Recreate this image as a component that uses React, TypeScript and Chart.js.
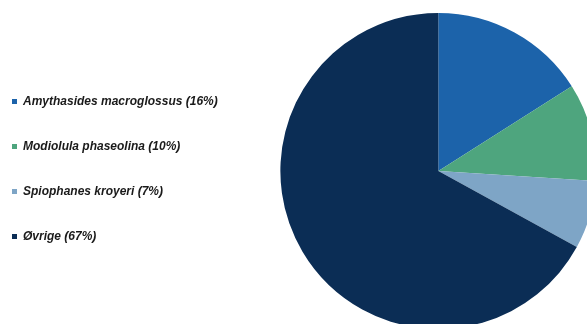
import React, { useEffect, useRef } from "react";
import { Chart, registerables } from "chart.js";

Chart.register(...registerables);

const categories = [
  "Amythasides macroglossus (16%)",
  "Modiolula phaseolina (10%)",
  "Spiophanes kroyeri (7%)",
  "Øvrige (67%)",
];
const values = [16, 10, 7, 67];
const colors = ["#1c63aa", "#4ea57e", "#7ea5c6", "#0b2d55"];

const legendNudge = {
  id: "legendNudge",
  afterLayout(chart: any) {
    if (chart.legend) {
      chart.legend.top -= 2;
      chart.legend.bottom -= 2;
    }
  },
};

export default function App() {
  const ref = useRef<HTMLCanvasElement | null>(null);
  useEffect(() => {
    if (!ref.current) return;
    const chart = new Chart(ref.current, {
      type: "pie",
      data: {
        labels: categories,
        datasets: [
          {
            data: values,
            backgroundColor: colors,
            borderWidth: 0,
          },
        ],
      },
      plugins: [legendNudge],
      options: {
        responsive: false,
        animation: false,
        layout: { padding: { top: 13, bottom: 13, left: 0, right: 0 } },
        plugins: {
          tooltip: { enabled: false },
          legend: {
            position: "left",
            align: "center",
            labels: {
              boxWidth: 5,
              boxHeight: 5,
              padding: 33,
              color: "#1a1a1a",
              font: {
                family: "'Liberation Sans', Arial, sans-serif",
                size: 12,
                weight: "bold",
                style: "italic",
              },
            },
          },
        },
      },
    });
    return () => chart.destroy();
  }, []);
  return (
    <div
      style={{
        position: "fixed",
        left: 0,
        top: 0,
        width: 587,
        height: 324,
        overflow: "hidden",
        background: "#fff",
      }}
    >
      <canvas
        ref={ref}
        width={670}
        height={342}
        style={{ position: "absolute", left: -21, top: 0, width: 670, height: 342 }}
      />
    </div>
  );
}
